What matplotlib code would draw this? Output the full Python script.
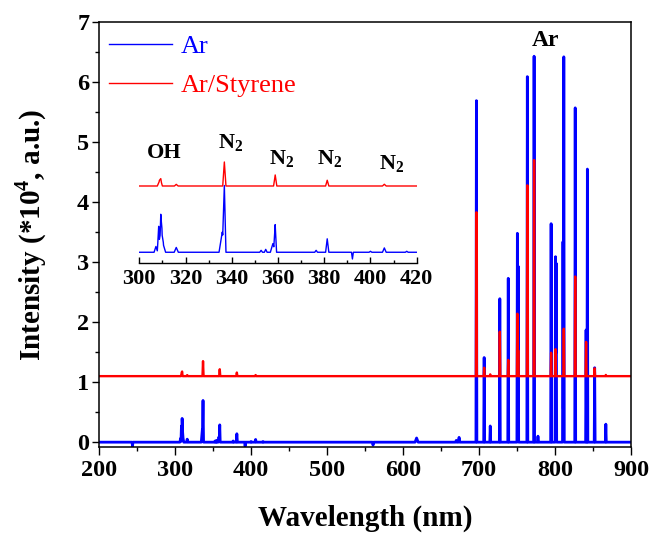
import numpy as np
import matplotlib.pyplot as plt
from matplotlib.ticker import MultipleLocator

plt.rcParams['font.family'] = 'Liberation Serif'
plt.rcParams['font.weight'] = 'bold'
plt.rcParams['mathtext.fontset'] = 'custom'
plt.rcParams['mathtext.rm'] = 'Liberation Serif:bold'
plt.rcParams['mathtext.bf'] = 'Liberation Serif:bold'

# picos do espectro Ar (comprimento de onda nm, altura *10^4, meia-largura nm)
ar_wl = [244.0, 307.2, 308.4, 309.3, 309.8, 310.4, 316.0, 335.9, 336.8, 352.7, 354.7,
         357.8, 358.8, 376.5, 381.3, 392.2, 400.0, 406.0, 415.7, 560.5, 617.8, 670.0,
         673.7, 696.5, 706.7, 714.7, 727.3, 738.4, 750.4, 751.5, 763.5, 772.4, 777.5,
         794.8, 800.6, 801.5, 810.4, 811.5, 826.5, 840.8, 842.5, 852.1, 866.8]
ar_h = [-0.07, 0.06, 0.27, 0.35, 0.16, 0.08, 0.05, 0.21, 0.62, 0.02, 0.03,
        0.09, 0.28, 0.02, 0.14, -0.07, 0.01, 0.045, 0.01, -0.05, 0.07, 0.03,
        0.08, 5.69, 1.41, 0.27, 2.39, 2.73, 3.48, 2.93, 6.09, 6.43, 0.10,
        3.64, 3.09, 2.98, 3.34, 6.42, 5.57, 1.87, 4.55, 1.24, 0.30]
ar_w = [0.6, 0.8, 0.6, 0.6, 0.7, 1.0, 0.9, 1.4, 0.7, 0.6, 0.6,
        1.1, 0.6, 0.6, 0.7, 0.4, 0.6, 0.8, 0.6, 0.8, 2.0, 1.0,
        1.0, 0.6, 0.6, 0.6, 0.6, 0.6, 0.6, 0.6, 0.6, 0.6, 0.8,
        0.6, 0.6, 0.6, 0.6, 0.6, 0.6, 0.6, 0.6, 0.6, 0.6]

# picos do espectro Ar/Styrene (acima da linha de base)
sty_wl = [308.7, 309.3, 316.0, 336.8, 358.8, 381.3, 406.0, 696.5, 706.7, 714.7,
          727.3, 738.4, 750.4, 751.5, 763.5, 772.4, 794.8, 800.6, 811.5, 826.5,
          840.8, 852.1, 866.8]
sty_h = [0.05, 0.06, 0.017, 0.25, 0.115, 0.06, 0.018, 2.73, 0.14, 0.03,
         0.74, 0.27, 1.04, 0.43, 3.18, 3.60, 0.39, 0.45, 0.79, 1.66,
         0.57, 0.13, 0.02]
sty_w = [0.9, 0.7, 0.8, 0.7, 0.7, 0.7, 0.8, 0.6, 0.6, 0.6,
         0.6, 0.6, 0.6, 0.6, 0.6, 0.6, 0.6, 0.6, 0.6, 0.6,
         0.6, 0.6, 0.6]

desloc_principal = 1.1   # deslocamento vertical da curva vermelha
desloc_inset = 0.69

inset_rotulos = ['OH', r'N$_\mathbf{2}$', r'N$_\mathbf{2}$', r'N$_\mathbf{2}$', r'N$_\mathbf{2}$']
inset_rot_x = [310.7, 339.4, 361.4, 382.5, 409.0]
inset_rot_y = [0.98, 1.08, 0.92, 0.92, 0.86]


def perfil(centros, alturas, larguras):
    """Monta o espectro como soma de picos triangulares."""
    x = [200.0, 900.0]
    for c, w in zip(centros, larguras):
        x += [c - w, c, c + w]
    x = np.array(sorted(set(x)))
    y = np.zeros_like(x)
    for c, h, w in zip(centros, alturas, larguras):
        y += h * np.clip(1 - np.abs(x - c) / w, 0, None)
    return x, y


xb, yb = perfil(ar_wl, ar_h, ar_w)
xr, yr = perfil(sty_wl, sty_h, sty_w)

fig = plt.figure(figsize=(6.56, 5.33), dpi=100)
ax = fig.add_axes([0.151, 0.1614, 0.811, 0.7973])

ax.plot(xb, yb, color='#0000ff', lw=2.0, label='Ar')
ax.plot(xr, yr + desloc_principal, color='#ff0000', lw=1.7, label='Ar/Styrene')

ax.set_xlim(200, 900)
ax.set_ylim(-0.08, 7)
ax.xaxis.set_major_locator(MultipleLocator(100))
ax.xaxis.set_minor_locator(MultipleLocator(50))
ax.yaxis.set_major_locator(MultipleLocator(1))
ax.yaxis.set_minor_locator(MultipleLocator(0.5))
ax.tick_params(which='both', direction='out', width=1.0, labelsize=17.5)
ax.tick_params(axis='x', which='major', length=6)
ax.tick_params(axis='y', which='major', length=5, pad=2)
ax.tick_params(which='minor', length=3)
for s in ax.spines.values():
    s.set_linewidth(1.1)

ax.set_xlabel('Wavelength (nm)', fontsize=21, fontweight='bold', labelpad=17)
ax.set_ylabel(r'Intensity (*10$^{\mathbf{4}}$, a.u.)', fontsize=21, fontweight='bold', labelpad=20)

ax.text(787, 6.6, 'Ar', ha='center', va='baseline', fontsize=17, fontweight='bold')

leg = ax.legend(loc='upper left', bbox_to_anchor=(0.019, 0.97), frameon=False,
                prop={'family': 'Liberation Serif', 'size': 19, 'weight': 'normal'},
                handlelength=2.4, handletextpad=0.3, labelspacing=0.57,
                borderaxespad=0, borderpad=0, labelcolor='linecolor')
for linha in leg.get_lines():
    linha.set_linewidth(1.0)

# inset com a regiao 300-420 nm
ax_in = fig.add_axes([0.2123, 0.506, 0.4229, 0.269])
ax_in.patch.set_alpha(0)
ax_in.plot(xb, yb, color='#0000ff', lw=1.0)
ax_in.plot(xr, yr + desloc_inset, color='#ff0000', lw=1.0)
ax_in.set_xlim(300, 420)
ax_in.set_ylim(-0.115, 1.378)
for lado in ['top', 'right', 'left']:
    ax_in.spines[lado].set_visible(False)
ax_in.spines['bottom'].set_linewidth(1.0)
ax_in.set_yticks([])
ax_in.xaxis.set_major_locator(MultipleLocator(20))
ax_in.xaxis.set_minor_locator(MultipleLocator(10))
ax_in.tick_params(which='both', direction='in', width=1.0, labelsize=16)
ax_in.tick_params(which='major', length=4, pad=4)
ax_in.tick_params(which='minor', length=2)

for txt, tx, ty in zip(inset_rotulos, inset_rot_x, inset_rot_y):
    ax_in.text(tx, ty, txt, ha='center', va='baseline', fontsize=16, fontweight='bold')

fig.savefig('out.png', dpi=100)
